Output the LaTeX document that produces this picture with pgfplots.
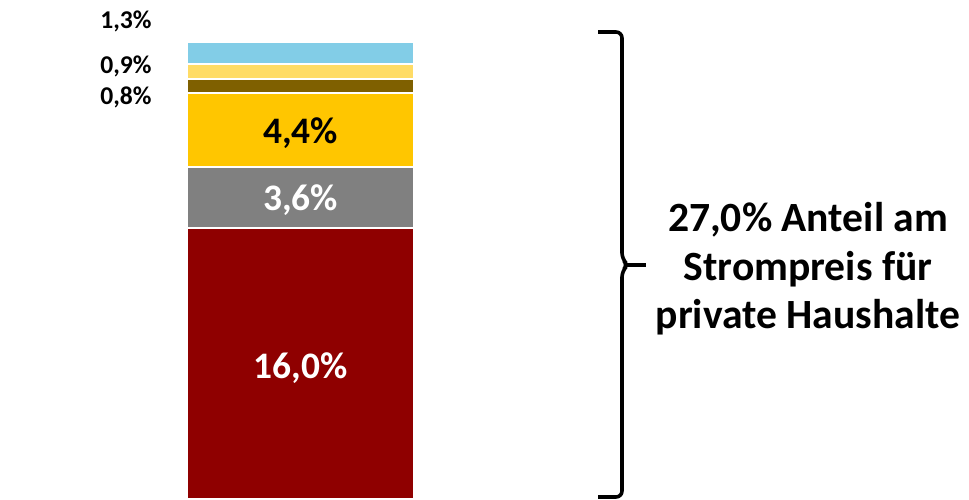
\documentclass[border=0pt]{standalone}
\usepackage{fontspec}
\setmainfont{Carlito}
\usepackage{pgfplots}
\pgfplotsset{compat=1.18}

\definecolor{cRed}{HTML}{8F0000}
\definecolor{cGray}{HTML}{808080}
\definecolor{cGold}{HTML}{FFC600}
\definecolor{cBrown}{HTML}{7F6000}
\definecolor{cLightY}{HTML}{FFDC66}
\definecolor{cBlue}{HTML}{82CDE7}

\begin{document}
\begin{tikzpicture}
% 1px = 0.5pt, canvas 969 x 499 px
\path[use as bounding box] (0,0) rectangle (484.5pt,249.5pt);
\begin{axis}[
    at={(0,0)}, anchor=south west,
    scale only axis,
    width=484.5pt, height=249.5pt,
    xmin=0, xmax=969,
    ymin=0, ymax=29.48,
    enlargelimits=false,
    axis lines=none,
    ybar stacked,
    bar width=227,
    clip=false,
]
\addplot[fill=cRed, draw=white, line width=1pt] coordinates {(300.5,16.0)};
\addplot[fill=cGray, draw=white, line width=1pt] coordinates {(300.5,3.6)};
\addplot[fill=cGold, draw=white, line width=1pt] coordinates {(300.5,4.4)};
\addplot[fill=cBrown, draw=white, line width=1pt] coordinates {(300.5,0.8)};
\addplot[fill=cLightY, draw=white, line width=1pt] coordinates {(300.5,0.9)};
\addplot[fill=cBlue, draw=white, line width=1pt] coordinates {(300.5,1.3)};
\end{axis}

\begin{scope}[x=0.5pt, y=-0.5pt, yshift=249.5pt]
  % labels inside the bar
  \node[anchor=base, font=\fontsize{18.7}{22}\selectfont\bfseries, text=black, inner sep=0pt] at (300.5,143) {4,4\%};
  \node[anchor=base, font=\fontsize{18.7}{22}\selectfont\bfseries, text=white, inner sep=0pt] at (300.5,210) {3,6\%};
  \node[anchor=base, font=\fontsize{18.7}{22}\selectfont\bfseries, text=white, inner sep=0pt] at (300.5,378) {16,0\%};
  % small labels left of the bar
  \node[anchor=base east, font=\fontsize{12.8}{15}\selectfont\bfseries, inner sep=0pt] at (152,29) {1,3\%};
  \node[anchor=base east, font=\fontsize{12.8}{15}\selectfont\bfseries, inner sep=0pt] at (152,74) {0,9\%};
  \node[anchor=base east, font=\fontsize{12.8}{15}\selectfont\bfseries, inner sep=0pt] at (152,105) {0,8\%};
  % brace
  \draw[line width=1.8pt, rounded corners=3pt]
    (598,32) -- (622,32) -- (622,259) -- (628,265) -- (622,271) -- (622,497) -- (598,497);
  \draw[line width=1.8pt] (626,265) -- (646,265);
  % text right of the brace
  \node[anchor=base, font=\fontsize{20.8}{24}\selectfont\bfseries, inner sep=0pt] at (808,231) {27,0\% Anteil am};
  \node[anchor=base, font=\fontsize{20.8}{24}\selectfont\bfseries, inner sep=0pt] at (808,280) {Strompreis für};
  \node[anchor=base, font=\fontsize{20.8}{24}\selectfont\bfseries, inner sep=0pt] at (808,328) {private Haushalte};
\end{scope}
\end{tikzpicture}
\end{document}
